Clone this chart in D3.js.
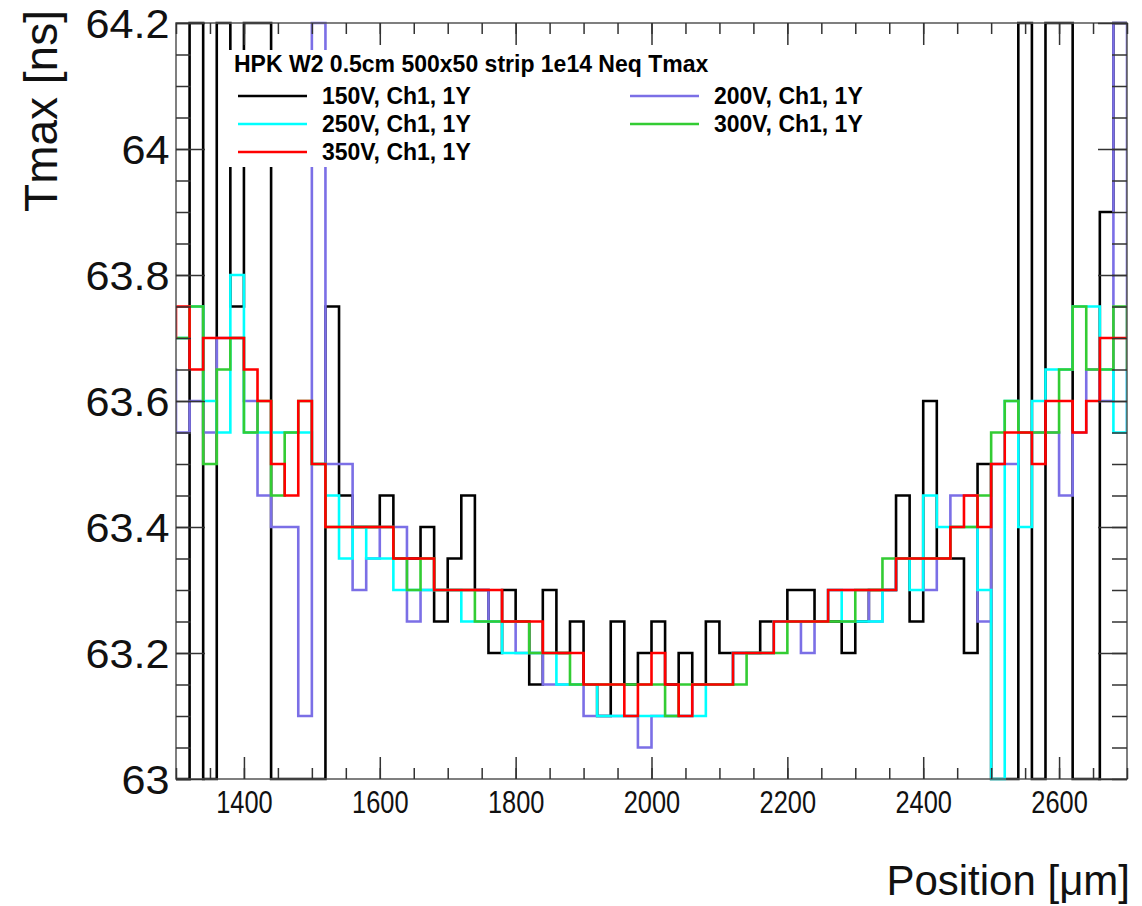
<!DOCTYPE html>
<html>
<head>
<meta charset="utf-8">
<script src="https://cdn.jsdelivr.net/npm/d3@7"></script>
<style>
  body { margin: 0; background: #fff; }
  text { font-family: "Liberation Sans", Arial, Helvetica, sans-serif; }
  .tick line { stroke: #333; stroke-width: 1.5; }
  .domain { display: none; }
  .legend-text { font-weight: bold; font-size: 23px; }
</style>
</head>
<body>
<script>
var W = 1142, H = 906;
var frame = {left: 176, right: 1127, top: 23, bottom: 779};

// bin left edges (20 um bins), includes one bin on each side of the visible range
var binLeft = d3.range(1280, 2720, 20);
var binWidth = 20;

// Tmax per bin [ns]; first value = bin 1280-1300, last value = bin 2700-2720
// 64.3 / 62.9 mean off-scale (drawn at the frame edge)
var v150 = [62.9,
  62.9, 64.3, 62.9, 64.3, 63.75, 64.3, 64.3, 62.9, 62.9, 62.9,
  62.9, 63.75, 63.45, 63.4, 63.4, 63.45, 63.35, 63.35, 63.4, 63.25,
  63.35, 63.45, 63.3, 63.2, 63.3, 63.25, 63.15, 63.3, 63.2, 63.25,
  63.15, 63.1, 63.25, 63.15, 63.2, 63.25, 63.15, 63.2, 63.15, 63.25,
  63.2, 63.2, 63.2, 63.25, 63.25, 63.3, 63.3, 63.25, 63.25, 63.2,
  63.25, 63.3, 63.3, 63.45, 63.25, 63.6, 63.35, 63.35, 63.2, 63.5,
  62.9, 62.9, 64.3, 62.9, 64.3, 64.3, 62.9, 62.9, 63.9, 64.3,
  64.3];
var v200 = [63.65,
  63.55, 63.6, 63.55, 63.7, 63.7, 63.6, 63.45, 63.4, 63.4, 63.1,
  64.3, 63.5, 63.5, 63.3, 63.35, 63.4, 63.4, 63.25, 63.3, 63.3,
  63.3, 63.3, 63.3, 63.25, 63.25, 63.2, 63.2, 63.15, 63.15, 63.15,
  63.1, 63.1, 63.1, 63.1, 63.05, 63.1, 63.1, 63.1, 63.15, 63.15,
  63.15, 63.2, 63.2, 63.2, 63.25, 63.25, 63.2, 63.25, 63.3, 63.3,
  63.3, 63.25, 63.3, 63.35, 63.35, 63.3, 63.35, 63.45, 63.45, 63.25,
  63.5, 63.5, 63.55, 63.55, 63.55, 63.45, 63.55, 63.65, 63.6, 64.3,
  63.55];
var v250 = [63.7,
  63.7, 63.75, 63.6, 63.55, 63.8, 63.55, 63.55, 63.55, 63.55, 63.55,
  63.5, 63.45, 63.35, 63.4, 63.35, 63.35, 63.3, 63.3, 63.3, 63.3,
  63.3, 63.25, 63.25, 63.25, 63.2, 63.2, 63.2, 63.2, 63.15, 63.15,
  63.15, 63.1, 63.1, 63.1, 63.1, 63.1, 63.1, 63.1, 63.1, 63.15,
  63.15, 63.2, 63.2, 63.2, 63.25, 63.25, 63.25, 63.25, 63.3, 63.25,
  63.25, 63.25, 63.3, 63.35, 63.3, 63.45, 63.4, 63.4, 63.4, 63.3,
  62.9, 63.6, 63.4, 63.6, 63.65, 63.65, 63.75, 63.75, 63.65, 63.55,
  63.65];
var v300 = [63.7,
  63.7, 63.75, 63.5, 63.65, 63.7, 63.55, 63.6, 63.45, 63.55, 63.6,
  63.5, 63.4, 63.4, 63.4, 63.4, 63.4, 63.35, 63.3, 63.35, 63.3,
  63.3, 63.3, 63.25, 63.25, 63.25, 63.25, 63.2, 63.2, 63.2, 63.15,
  63.15, 63.15, 63.15, 63.15, 63.15, 63.15, 63.1, 63.15, 63.15, 63.15,
  63.15, 63.15, 63.2, 63.2, 63.2, 63.25, 63.25, 63.25, 63.25, 63.25,
  63.3, 63.3, 63.35, 63.35, 63.35, 63.35, 63.35, 63.4, 63.4, 63.45,
  63.55, 63.6, 63.55, 63.55, 63.55, 63.65, 63.75, 63.65, 63.65, 63.75,
  63.65];
var v350 = [63.7,
  63.75, 63.65, 63.7, 63.7, 63.7, 63.65, 63.6, 63.5, 63.45, 63.6,
  63.5, 63.4, 63.4, 63.4, 63.4, 63.4, 63.35, 63.35, 63.35, 63.3,
  63.3, 63.3, 63.3, 63.3, 63.25, 63.25, 63.25, 63.2, 63.2, 63.2,
  63.15, 63.15, 63.15, 63.1, 63.15, 63.2, 63.15, 63.1, 63.15, 63.15,
  63.15, 63.2, 63.2, 63.2, 63.25, 63.25, 63.25, 63.25, 63.3, 63.3,
  63.3, 63.3, 63.3, 63.35, 63.35, 63.35, 63.35, 63.4, 63.45, 63.4,
  63.5, 63.55, 63.55, 63.5, 63.6, 63.6, 63.55, 63.6, 63.7, 63.7,
  63.7];

var seriesNames = ["150V, Ch1, 1Y", "200V, Ch1, 1Y", "250V, Ch1, 1Y", "300V, Ch1, 1Y", "350V, Ch1, 1Y"];
var seriesColors = ["#000000", "#7b6fe6", "#00ffff", "#33cc33", "#ff0000"];
var seriesValues = [v150, v200, v250, v300, v350];

var xTicksMajor = [1400, 1600, 1800, 2000, 2200, 2400, 2600];
var xTicksMinor = d3.range(1300, 2701, 50);
var yTicksMajor = [63, 63.2, 63.4, 63.6, 63.8, 64, 64.2];
var yTicksMinor = d3.range(63, 64.2001, 0.05);

var series = seriesNames.map(function(name, i) {
    return {
        name: name,
        color: seriesColors[i],
        values: binLeft.map(function(x, j) { return {x0: x, x1: x + binWidth, v: seriesValues[i][j]}; })
    };
});

var xScale = d3.scaleLinear()
    .domain([1300, 2700])
    .range([frame.left, frame.right]);

var yScale = d3.scaleLinear()
    .domain([63, 64.2])
    .range([frame.bottom, frame.top])
    .clamp(true);

var svg = d3.select("body").append("svg")
    .attr("width", W)
    .attr("height", H);

svg.append("clipPath")
    .attr("id", "plot-clip")
    .append("rect")
    .attr("x", frame.left)
    .attr("y", 0)
    .attr("width", frame.right - frame.left)
    .attr("height", H);

// step outline of a histogram
var line = d3.line()
    .x(function(d) { return xScale(d[0]); })
    .y(function(d) { return yScale(d[1]); });

function steps(values) {
    var pts = [];
    values.forEach(function(d) {
        pts.push([d.x0, d.v]);
        pts.push([d.x1, d.v]);
    });
    return pts;
}

svg.append("g")
    .attr("clip-path", "url(#plot-clip)")
    .selectAll(".hist")
    .data(series)
    .enter()
    .append("path")
    .attr("class", "hist")
    .attr("fill", "none")
    .attr("stroke", function(d) { return d.color; })
    .attr("stroke-width", 2.6)
    .attr("d", function(d) { return line(steps(d.values)); });

// frame
svg.append("rect")
    .attr("x", frame.left)
    .attr("y", frame.top)
    .attr("width", frame.right - frame.left)
    .attr("height", frame.bottom - frame.top)
    .attr("fill", "none")
    .attr("stroke", "#555")
    .attr("stroke-width", 1.5);

// ticks on all four sides, pointing inwards
svg.append("g")
    .attr("transform", "translate(0," + frame.bottom + ")")
    .call(d3.axisBottom(xScale).tickValues(xTicksMinor).tickSize(-11).tickFormat(""));
var xAxis = svg.append("g")
    .attr("transform", "translate(0," + frame.bottom + ")")
    .call(d3.axisBottom(xScale).tickValues(xTicksMajor).tickSize(-22).tickPadding(12).tickFormat(d3.format("d")));
xAxis.selectAll("text")
    .attr("font-size", 31)
    .attr("fill", "#111")
    .attr("transform", "scale(0.82,1)");
svg.append("g")
    .attr("transform", "translate(0," + frame.top + ")")
    .call(d3.axisTop(xScale).tickValues(xTicksMinor).tickSize(-11).tickFormat(""));
svg.append("g")
    .attr("transform", "translate(0," + frame.top + ")")
    .call(d3.axisTop(xScale).tickValues(xTicksMajor).tickSize(-22).tickFormat(""));

svg.append("g")
    .attr("transform", "translate(" + frame.left + ",0)")
    .call(d3.axisLeft(yScale).tickValues(yTicksMinor).tickSize(-15).tickFormat(""));
var yAxis = svg.append("g")
    .attr("transform", "translate(" + frame.left + ",0)")
    .call(d3.axisLeft(yScale).tickValues(yTicksMajor).tickSize(-29).tickPadding(6).tickFormat(d3.format("")));
yAxis.selectAll("text")
    .attr("font-size", 40)
    .attr("dy", "0.36em")
    .attr("fill", "#111")
    .attr("transform", "scale(1.08,1)");
svg.append("g")
    .attr("transform", "translate(" + frame.right + ",0)")
    .call(d3.axisRight(yScale).tickValues(yTicksMinor).tickSize(-15).tickFormat(""));
svg.append("g")
    .attr("transform", "translate(" + frame.right + ",0)")
    .call(d3.axisRight(yScale).tickValues(yTicksMajor).tickSize(-29).tickFormat(""));

// axis titles
svg.append("text")
    .attr("x", 1130)
    .attr("y", 895)
    .attr("text-anchor", "end")
    .attr("font-size", 42)
    .attr("fill", "#111")
    .text("Position [\u03bcm]");

svg.append("text")
    .attr("transform", "translate(57,10) rotate(-90)")
    .attr("text-anchor", "end")
    .attr("font-size", 46)
    .attr("fill", "#111")
    .text("Tmax [ns]");

// legend
var legend = svg.append("g");
legend.append("rect")
    .attr("x", 226)
    .attr("y", 50)
    .attr("width", 655)
    .attr("height", 117)
    .attr("fill", "#fff");
legend.append("text")
    .attr("class", "legend-text")
    .attr("x", 234)
    .attr("y", 72)
    .text("HPK W2 0.5cm 500x50 strip 1e14 Neq Tmax");

var legendPos = [
    {col: 0, row: 0}, {col: 1, row: 0},
    {col: 0, row: 1}, {col: 1, row: 1},
    {col: 0, row: 2}
];
var colX = [238, 630];
var rowY = [96, 124, 152];

var entries = legend.selectAll(".entry")
    .data(series)
    .enter()
    .append("g")
    .attr("class", "entry")
    .attr("transform", function(d, i) {
        return "translate(" + colX[legendPos[i].col] + "," + rowY[legendPos[i].row] + ")";
    });
entries.append("line")
    .attr("x1", 0)
    .attr("x2", 69)
    .attr("stroke", function(d) { return d.color; })
    .attr("stroke-width", 2.6);
entries.append("text")
    .attr("class", "legend-text")
    .attr("x", 84)
    .attr("dy", "0.36em")
    .text(function(d) { return d.name; });
</script>
</body>
</html>
